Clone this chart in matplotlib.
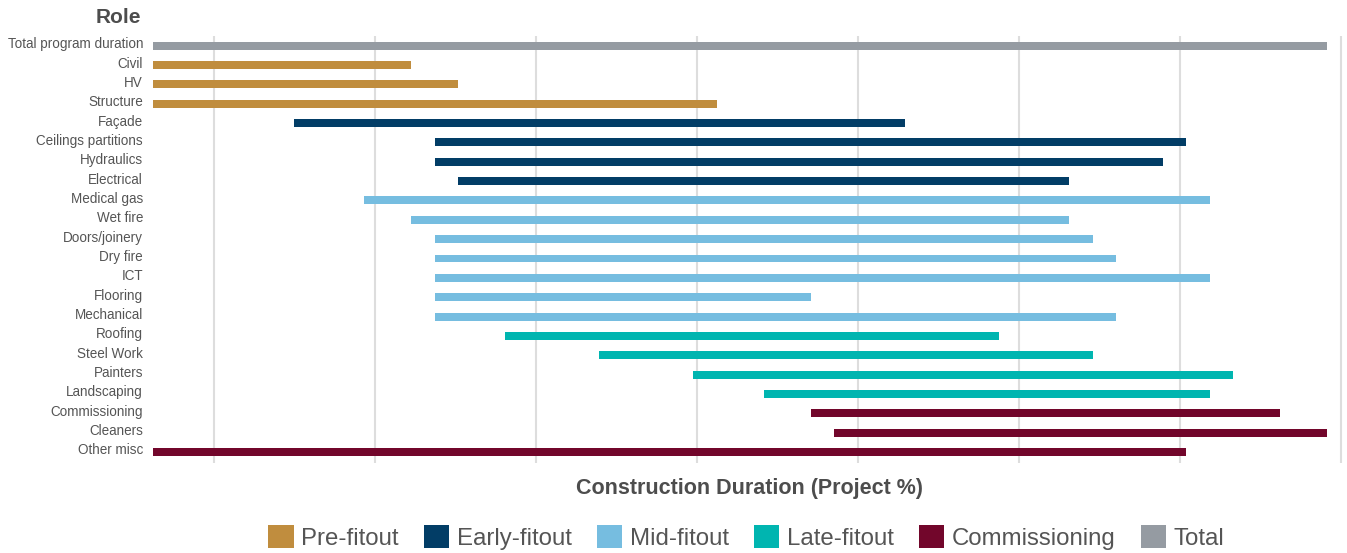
import matplotlib
matplotlib.use("Agg")
import matplotlib.pyplot as plt
import numpy as np
from matplotlib.patches import Patch
from matplotlib.transforms import ScaledTranslation

plt.rcParams['font.family'] = ['Liberation Sans', 'DejaVu Sans']

roles = ["Total program duration", "Civil", "HV", "Structure", "Façade",
         "Ceilings partitions", "Hydraulics", "Electrical", "Medical gas",
         "Wet fire", "Doors/joinery", "Dry fire", "ICT", "Flooring",
         "Mechanical", "Roofing", "Steel Work", "Painters", "Landscaping",
         "Commissioning", "Cleaners", "Other misc"]
starts = [0, 0, 0, 0, 12, 24, 24, 26, 18, 22, 24, 24, 24, 24, 24,
          30, 38, 46, 52, 56, 58, 0]
ends = [100, 22, 26, 48, 64, 88, 86, 78, 90, 78, 80, 82, 90, 56, 82,
        72, 80, 92, 90, 96, 100, 88]
phases = ["Total", "Pre-fitout", "Pre-fitout", "Pre-fitout",
          "Early-fitout", "Early-fitout", "Early-fitout", "Early-fitout",
          "Mid-fitout", "Mid-fitout", "Mid-fitout", "Mid-fitout", "Mid-fitout",
          "Mid-fitout", "Mid-fitout",
          "Late-fitout", "Late-fitout", "Late-fitout", "Late-fitout",
          "Commissioning", "Commissioning", "Commissioning"]

phase_names = ["Pre-fitout", "Early-fitout", "Mid-fitout", "Late-fitout",
               "Commissioning", "Total"]
phase_colors = {"Pre-fitout": "#C08D3E", "Early-fitout": "#023D66",
                "Mid-fitout": "#76BDE0", "Late-fitout": "#00B5B0",
                "Commissioning": "#72062B", "Total": "#959BA2"}

W, H = 1347, 553
fig = plt.figure(figsize=(W / 100, H / 100), dpi=100)
ax = fig.add_axes([153 / W, 1 - 463 / H, (1345 - 153) / W, (463 - 36) / H])

y = np.arange(len(roles))
widths = np.array(ends) - np.array(starts)
ax.barh(y, widths, left=starts, height=0.41,
        color=[phase_colors[p] for p in phases], zorder=2)

ax.set_ylim(len(roles) - 1 + 0.57, -0.5)
ax.set_xlim(0, 101.5)
# vertical gridlines as in the original
ax.set_xticks(np.arange(5.2, 102, 13.71))
ax.set_xticklabels([])
ax.grid(axis='x', color='#DDDDDD', linewidth=1.5, zorder=0)
ax.set_axisbelow(True)
ax.tick_params(axis='both', length=0)
ax.tick_params(axis='y', pad=7.2)
ax.set_yticks(y)
ax.set_yticklabels(roles, fontsize=9.75, color='#555555')
# labels sit a little above the bar centre in the original
for lab in ax.get_yticklabels():
    lab.set_transform(lab.get_transform() +
                      ScaledTranslation(0, 3 / 100, fig.dpi_scale_trans))
for s in ax.spines.values():
    s.set_visible(False)

ax.set_xlabel("Construction Duration (Project %)", fontsize=15.5,
              fontweight='bold', color='#4D4D4D', labelpad=7)
fig.text(141 / W, 1 - 17.5 / H, "Role", ha='right', va='center',
         fontsize=15, fontweight='bold', color='#4D4D4D')

handles = [Patch(facecolor=phase_colors[p], label=p) for p in phase_names]
leg = fig.legend(handles=handles, loc='center', ncol=6, frameon=False,
                 bbox_to_anchor=(746.5 / W, 1 - 537.5 / H), fontsize=17.3,
                 handlelength=1.05, handleheight=1.05, handletextpad=0.32,
                 columnspacing=1.05)
for t in leg.get_texts():
    t.set_color('#555555')

fig.savefig("out.png", dpi=100)
